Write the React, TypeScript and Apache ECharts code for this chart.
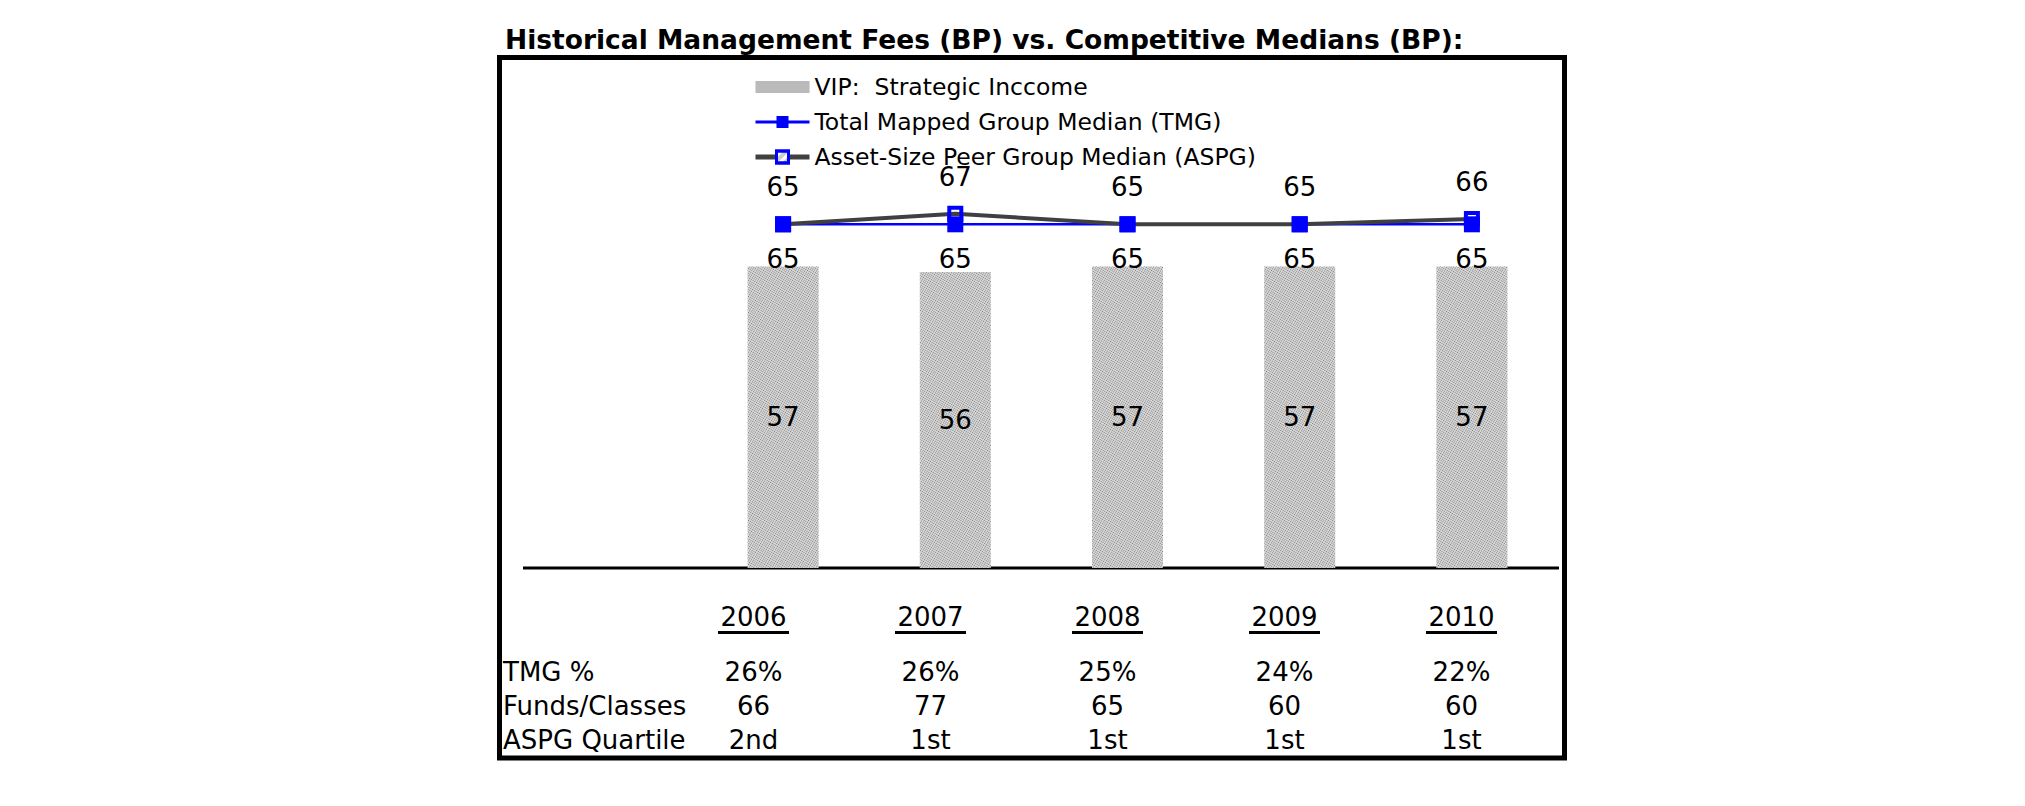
import React, { useEffect, useRef } from "react";
import * as echarts from "echarts";

const years = ["2006", "2007", "2008", "2009", "2010"];
const vipFees = [57, 56, 57, 57, 57];
const tmgMedian = [65, 65, 65, 65, 65];
const aspgMedian = [65, 67, 65, 65, 66];
const tmgPct = ["26%", "26%", "25%", "24%", "22%"];
const fundsClasses = ["66", "77", "65", "60", "60"];
const aspgQuartile = ["2nd", "1st", "1st", "1st", "1st"];
const rowLabels = ["TMG %", "Funds/Classes", "ASPG Quartile"];
const seriesNames = [
  "VIP:  Strategic Inccome",
  "Total Mapped Group Median (TMG)",
  "Asset-Size Peer Group Median (ASPG)",
];
const titleText = "Historical Management Fees (BP) vs. Competitive Medians (BP):";
const yMin = 0;
const yMax = 80;

const FONT = "'DejaVu Sans', Verdana, sans-serif";
const rowCenters = [672, 706, 740];

const barDecal = {
  symbol: "rect",
  symbolSize: 1,
  dashArrayX: [1, 1],
  dashArrayY: [1, 1],
  color: "#7a7a7a",
};

export default function App() {
  const ref = useRef<HTMLDivElement>(null);

  useEffect(() => {
    if (!ref.current) return;
    const chart = echarts.init(ref.current, null, { renderer: "svg" });
    const option: any = {
      animation: false,
      aria: { enabled: true, decal: { show: true } },
      title: {
        text: titleText,
        left: 505,
        top: 26,
        padding: 0,
        textStyle: { fontSize: 26.5, fontWeight: "bold", fontFamily: FONT, color: "#000" },
      },
      legend: {
        orient: "vertical",
        left: 753,
        top: 75,
        itemWidth: 54,
        itemHeight: 15,
        itemGap: 11,
        padding: 0,
        symbolKeepAspect: true,
        selectedMode: false,
        textStyle: { fontSize: 23.5, fontFamily: FONT, color: "#000" },
        data: [
          {
            name: seriesNames[0],
            icon: "path://M0,0H54V12H0Z",
            itemStyle: { color: "#cfcfcf", decal: barDecal },
          },
          {
            name: seriesNames[1],
            lineStyle: { width: 3, color: "#0000ff" },
            itemStyle: { color: "#0000ff" },
          },
          {
            name: seriesNames[2],
            lineStyle: { width: 5, color: "#404040" },
            itemStyle: { color: "#ffffff", borderColor: "#0000ff", borderWidth: 3 },
          },
        ],
      },
      grid: [
        { left: 697, width: 861, top: 145, height: 423 },
        { left: 665, width: 885, top: 590, height: 13 },
      ],
      xAxis: [
        {
          type: "category",
          gridIndex: 0,
          data: years,
          show: false,
        },
        {
          type: "category",
          gridIndex: 1,
          data: years,
          position: "bottom",
          axisLine: { show: false },
          axisTick: { show: false },
          axisLabel: {
            interval: 0,
            margin: 0,
            verticalAlign: "top",
            formatter: (v: string, i: number) =>
              `{y|${v}}\n{u|}\n{g|}\n{v|${tmgPct[i]}}\n{v|${fundsClasses[i]}}\n{v|${aspgQuartile[i]}}`,
            rich: {
              y: { fontSize: 26, lineHeight: 28, fontFamily: FONT, color: "#000" },
              u: { width: 71, height: 3, lineHeight: 3, backgroundColor: "#000" },
              g: { height: 21, lineHeight: 21 },
              v: { fontSize: 26, lineHeight: 34, fontFamily: FONT, color: "#000" },
            },
          },
        },
      ],
      yAxis: [
        { type: "value", gridIndex: 0, min: yMin, max: yMax, show: false },
        { type: "value", gridIndex: 1, min: 0, max: 1, show: false },
      ],
      graphic: [
        {
          type: "rect",
          shape: { x: 499.5, y: 57.5, width: 1065, height: 700.5 },
          style: { fill: "none", stroke: "#000", lineWidth: 5 },
          silent: true,
        },
        {
          type: "line",
          shape: { x1: 523, y1: 568, x2: 1559, y2: 568 },
          style: { stroke: "#000", lineWidth: 3 },
          silent: true,
        },
        ...rowLabels.map((t, i) => ({
          type: "text",
          x: 503,
          y: rowCenters[i],
          silent: true,
          style: {
            text: t,
            fontSize: 26,
            fontFamily: FONT,
            fill: "#000",
            textAlign: "left",
            textVerticalAlign: "middle",
            verticalAlign: "middle",
          },
        })),
      ],
      series: [
        {
          name: seriesNames[0],
          type: "bar",
          xAxisIndex: 0,
          yAxisIndex: 0,
          data: vipFees,
          barWidth: 71,
          itemStyle: { color: "#dadada", decal: barDecal },
          label: { show: true, position: "inside", color: "#000", fontSize: 26, fontFamily: FONT },
        },
        {
          name: seriesNames[1],
          type: "line",
          xAxisIndex: 0,
          yAxisIndex: 0,
          data: tmgMedian,
          symbol: "rect",
          symbolSize: 16,
          color: "#0000ff",
          lineStyle: { color: "#0000ff", width: 2.5 },
          itemStyle: { color: "#0000ff" },
          label: { show: true, position: "bottom", distance: 14, color: "#000", fontSize: 26, fontFamily: FONT },
        },
        {
          name: seriesNames[2],
          type: "line",
          xAxisIndex: 0,
          yAxisIndex: 0,
          data: aspgMedian,
          symbol: "rect",
          symbolSize: 12,
          color: "#0000ff",
          lineStyle: { color: "#404040", width: 4 },
          itemStyle: { color: "rgba(255,255,255,0)", borderColor: "#0000ff", borderWidth: 4 },
          label: { show: true, position: "top", distance: 16, color: "#000", fontSize: 26, fontFamily: FONT },
        },
      ],
    };
    chart.setOption(option);
    return () => chart.dispose();
  }, []);

  return (
    <div
      ref={ref}
      style={{ position: "fixed", left: 0, top: 0, width: 2025, height: 806, background: "#fff" }}
    />
  );
}
